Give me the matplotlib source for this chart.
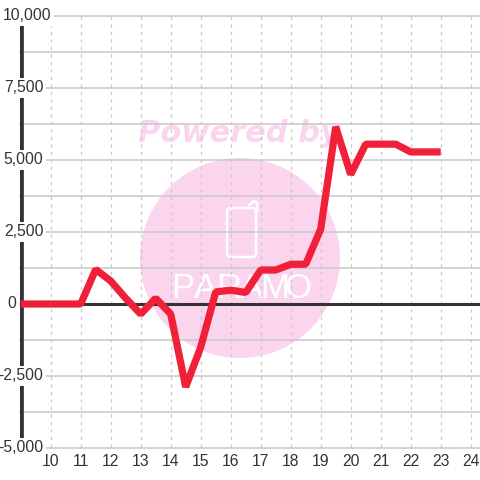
import matplotlib
matplotlib.use("Agg")
import matplotlib.pyplot as plt
from matplotlib.patches import Circle, FancyBboxPatch, Polygon
from matplotlib.transforms import IdentityTransform

hours = [9, 9.5, 10, 10.5, 11, 11.5, 12, 12.5, 13, 13.5, 14, 14.5, 15, 15.5, 16, 16.5,
         17, 17.5, 18, 18.5, 19, 19.5, 20, 20.5, 21, 21.5, 22, 22.5, 23]
values = [0, 0, 0, 0, 0, 1200, 800, 200, -350, 200, -350, -2880, -1500, 420, 480, 400,
          1180, 1180, 1380, 1380, 2600, 6150, 4500, 5550, 5550, 5550, 5280, 5280, 5280]
x_ticks = list(range(10, 25))
y_major = [-5000, -2500, 0, 2500, 5000, 7500, 10000]
y_minor = [-3750, -1250, 1250, 3750, 6250, 8750]

PINK = "#fbd5ed"
GRID = "#c8c8c8"
DARK = "#333333"


def flip(y):
    return 480 - y


fig = plt.figure(figsize=(4.8, 4.8), dpi=100)
# axes box in pixels: x 20..480, y 16..448
ax = fig.add_axes([20 / 480, 32 / 480, 460 / 480, 432 / 480])
ax.patch.set_visible(False)
ax.set_xlim(10 - 30.7 / 30, 10 + 429.3 / 30)
ax.set_ylim(-5000, 10000)

# watermark sits behind the axes, in pixel coordinates
px = IdentityTransform()
fig.add_artist(Circle((240, flip(258)), 100, transform=px, fc=PINK, ec="none", zorder=-3))
fig.text(239 / 480, flip(134) / 480, "Powered by", color=PINK, fontsize=22, fontweight="bold",
         fontstyle="italic", family="DejaVu Sans", ha="center", va="center", zorder=-3)
fig.add_artist(FancyBboxPatch((227, flip(257)), 29, 49, boxstyle="round,pad=0,rounding_size=4",
                              transform=px, fc="none", ec="white", lw=1.8, zorder=-2))
fig.add_artist(Polygon([(248, flip(206)), (254, flip(201)), (257, flip(203)), (257, flip(212))],
                       closed=False, transform=px, fc="none", ec="white", lw=1.8, zorder=-2))
for x0, letter in zip([183, 206, 229, 252, 275, 298], "PARAMO"):
    fig.text(x0 / 480, flip(289) / 480, letter, color="white", fontsize=25, family="Liberation Sans",
             fontstretch="condensed", ha="center", va="center", zorder=-2)

for y in y_major + y_minor:
    ax.axhline(y, color=GRID, lw=1.1, zorder=1, clip_on=False)
for x in x_ticks:
    ax.plot([x, x], [-4950, 10000], color=GRID, lw=0.9, ls=(0, (2.5, 3.5)), zorder=1)

ax.axhline(0, color=DARK, lw=2.2, zorder=2)
ax.axvline(9, color=DARK, lw=3.4, zorder=2)
ax.plot(hours, values, color="#f02039", lw=5.2, solid_joinstyle="bevel",
        solid_capstyle="butt", zorder=3, clip_on=False)

for side in ax.spines.values():
    side.set_visible(False)
ax.tick_params(length=0)
ax.set_xticks(x_ticks)
ax.set_xticklabels([str(x) for x in x_ticks], fontsize=11.3, family="Liberation Sans", color=DARK)
ax.tick_params(axis="x", pad=4)
ax.set_yticks([])

# y labels overlap the axis line and hide it behind a white box
for y in y_major:
    label = f"{y:,}"
    right = {10000: 51.5, 0: 16.5}.get(y, 43.5)
    ax.annotate(label, xy=(0, y), xycoords=ax.get_yaxis_transform(), xytext=(right / 480 * 4.8 * 72 - 20 * 0.72, 0),
                textcoords="offset points", ha="right", va="center", fontsize=11.3,
                family="Liberation Sans", color=DARK, zorder=5,
                bbox=dict(fc="white", ec="none", pad=1.5))

fig.savefig("out.png", dpi=100, facecolor="white")
